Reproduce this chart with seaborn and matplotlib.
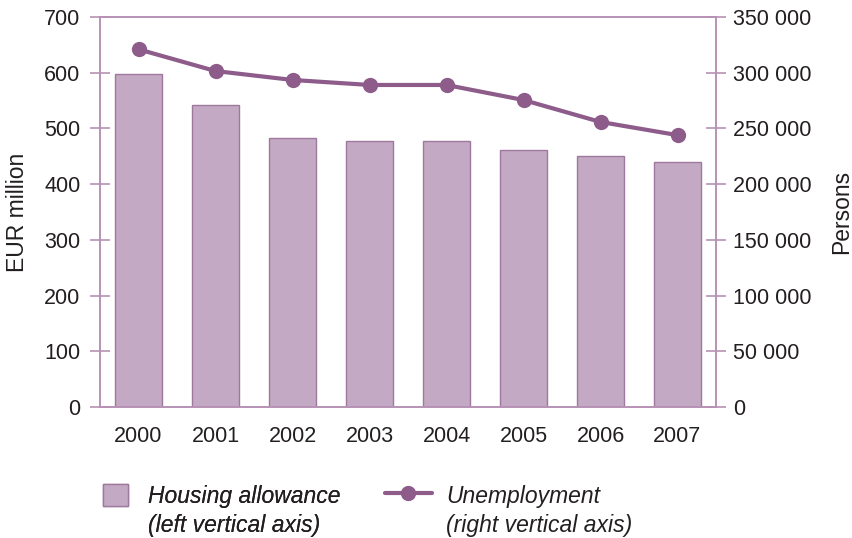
import numpy as np
import pandas as pd
import seaborn as sns
import matplotlib.pyplot as plt
from matplotlib.lines import Line2D
from matplotlib.patches import Patch
from matplotlib.ticker import FuncFormatter, FixedLocator

years = ['2000', '2001', '2002', '2003', '2004', '2005', '2006', '2007']
housing = [597, 542, 483, 477, 477, 461, 451, 440]
unemployment = [321000, 301500, 293500, 289000, 289000, 275500, 255800, 244000]

bar_fill = '#c3a9c3'
bar_edge = '#9e799d'
line_col = '#8d5c8b'
spine_col = '#b691b4'
text_col = '#231f20'

sns.set_style('white')
plt.rcParams['font.family'] = ['Liberation Sans', 'DejaVu Sans']

df = pd.DataFrame({'year': years, 'housing': housing, 'unemp': unemployment})

fig = plt.figure(figsize=(8.52, 5.38), dpi=100)
ax = fig.add_axes([100/852, 1 - 407/538, 616/852, 390/538])

sns.barplot(data=df, x='year', y='housing', color=bar_fill, edgecolor=bar_edge,
            linewidth=1, width=0.61, saturation=1, ax=ax)
ax.set_xlim(-0.5, 7.5)
ax.set_ylim(0, 700)
ax.set_yticks(range(0, 701, 100))

ax2 = ax.twinx()
sns.lineplot(x=np.arange(len(years)), y=df['unemp'], color=line_col, linewidth=3,
             marker='o', markersize=11, markeredgewidth=0, ax=ax2)
ax2.set_ylim(0, 350000)
ax2.set_yticks(range(0, 350001, 50000))
ax2.yaxis.set_major_formatter(FuncFormatter(lambda v, p: f'{int(v):,}'.replace(',', ' ')))
ax2.set_xlim(-0.5, 7.5)

for a in (ax, ax2):
    for s in a.spines.values():
        s.set_color(spine_col)
        s.set_linewidth(1.2)
ax.tick_params(axis='y', direction='inout', length=14, width=1.2, color=spine_col,
               labelsize=15.5, labelcolor=text_col, pad=7)
ax2.tick_params(axis='y', direction='inout', length=14, width=1.2, color=spine_col,
                labelsize=15.5, labelcolor=text_col, pad=5)

ax.xaxis.set_minor_locator(FixedLocator(np.arange(-0.5, 8, 1)))
ax.tick_params(axis='x', which='major', length=0, labelsize=15.5, labelcolor=text_col, pad=14)
ax.tick_params(axis='x', which='minor', direction='inout', length=12, width=1.2, color=spine_col)
ax.set_xlabel('')
ax.set_ylabel('EUR million', fontsize=16.5, color=text_col)
ax.yaxis.set_label_coords((29 - 100) / 616, 0.5)
ax2.set_ylabel('Persons', fontsize=16.5, color=text_col)
ax2.yaxis.set_label_coords((830 - 100) / 616, 0.5)

# legend: two blocks, handle aligned with first line of the label
blank = Patch(facecolor='none', edgecolor='none')
leg1 = fig.legend([Patch(facecolor=bar_fill, edgecolor=bar_edge), blank],
                  ['Housing allowance', '(left vertical axis)'],
                  loc='upper left', bbox_to_anchor=(103/852, 1 - 484/538), frameon=False,
                  prop={'size': 16.5, 'style': 'italic'}, handlelength=1.09, handleheight=1.09,
                  handletextpad=0.87, labelspacing=0.23, borderpad=0, borderaxespad=0)
leg2 = fig.legend([Line2D([0], [0], color=line_col, linewidth=3, marker='o', markersize=11,
                          markeredgewidth=0), blank],
                  ['Unemployment', '(right vertical axis)'],
                  loc='upper left', bbox_to_anchor=(385/852, 1 - 484/538), frameon=False,
                  prop={'size': 16.5, 'style': 'italic'}, handlelength=2.05, handleheight=1.09,
                  handletextpad=0.61, labelspacing=0.23, borderpad=0, borderaxespad=0)
fig.add_artist(leg1)
for lg in (leg1, leg2):
    for t in lg.get_texts():
        t.set_color(text_col)

fig.savefig('out.png', dpi=100)
